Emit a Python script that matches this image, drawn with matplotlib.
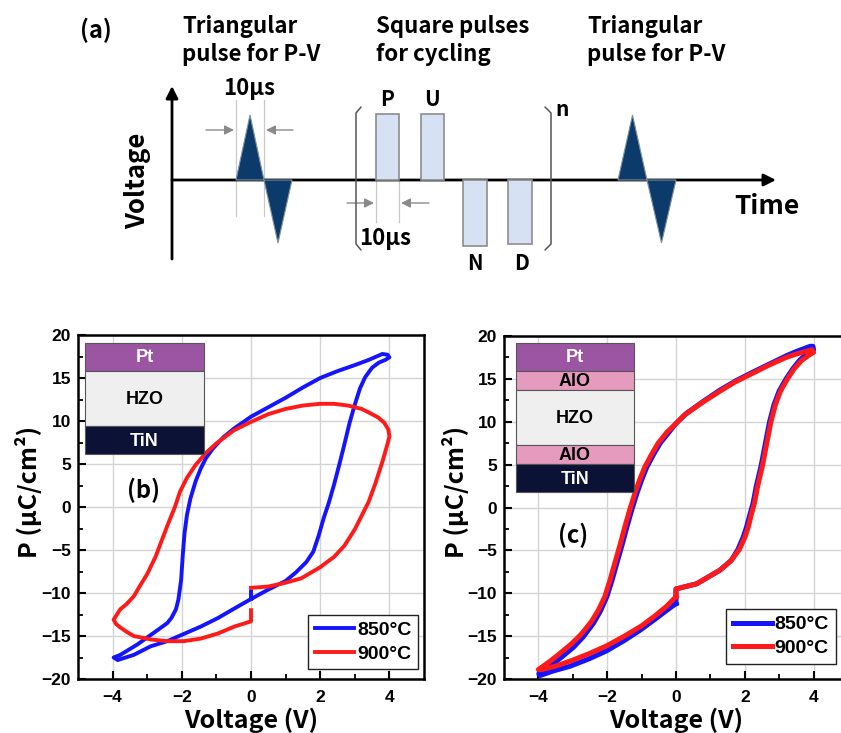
import matplotlib
matplotlib.use("Agg")
import matplotlib.pyplot as plt
from matplotlib.patches import Rectangle, Polygon

# ---------------- data ----------------
b850_V = [0, 0, 0.5, 1.0, 1.3, 1.6, 1.8, 1.95, 2.1, 2.25, 2.4, 2.55, 2.7, 2.85, 3.0, 3.15, 3.3, 3.5, 3.7, 3.88, 4.0,
          3.95, 3.8, 3.4, 3.0, 2.5, 2.0, 1.5, 1.0, 0.5, 0, -0.5, -0.8, -1.1, -1.3, -1.45, -1.6, -1.75, -1.85, -1.92,
          -1.97, -2.02, -2.1, -2.17, -2.3, -2.42, -2.8, -3.29, -3.78, -3.97, -3.85, -3.78, -3.39, -2.9, -2.42,
          -1.45, -0.95, -0.48, 0]
b850_P = [-9.8, -10.7, -9.6, -8.6, -7.6, -6.4, -5.2, -3.4, -1.3, 0.5, 2.6, 4.9, 7.3, 9.8, 11.9, 13.8, 15.1, 16.2, 16.8,
          17.1, 17.4, 17.7, 17.8, 17.1, 16.5, 15.8, 15.0, 13.9, 12.7, 11.6, 10.5, 9.1, 8.1, 6.8, 5.7, 4.5, 3.0, 1.0,
          -0.9, -3.0, -5.5, -8.5, -10.8, -11.9, -12.9, -13.5, -14.6, -16.0, -17.2, -17.5, -17.8, -17.7, -17.2,
          -16.2, -15.6, -13.9, -12.9, -11.8, -10.7]

b900_V = [0, 0.5, 1.0, 1.45, 2.0, 2.4, 2.7, 3.0, 3.2, 3.4, 3.6, 3.8, 3.95, 4.0, 3.97, 3.85, 3.68, 3.4, 3.2, 2.8, 2.4,
          2.0, 1.5, 1.0, 0.5, 0, -0.5, -1.0, -1.3, -1.6, -1.85, -2.05, -2.2, -2.42, -2.6, -2.76, -3.0, -3.2, -3.39,
          -3.6, -3.78, -3.97, -3.9, -3.78, -3.6, -3.39, -2.9, -2.42, -1.94, -1.45, -0.95, -0.48, 0, 0]
b900_P = [-9.4, -9.25, -8.8, -8.3, -7.0, -5.8, -4.5, -2.6, -1.0, 0.6, 2.8, 5.3, 7.4, 8.2, 9.0, 9.8, 10.4, 11.0, 11.4,
          11.8, 12.0, 12.0, 11.8, 11.4, 10.8, 9.9, 8.9, 7.4, 6.3, 4.9, 3.4, 1.8, 0.0, -2.2, -4.1, -5.8, -7.8, -9.1,
          -10.4, -11.3, -11.9, -13.1, -13.6, -14.0, -14.5, -15.0, -15.4, -15.6, -15.6, -15.3, -14.7, -13.9, -13.3,
          -12.0]

c850_V = [0, 0, 0.6, 1.28, 1.6, 1.8, 1.95, 2.05, 2.15, 2.24, 2.33, 2.48, 2.6, 2.72, 2.85, 3.0, 3.2, 3.4, 3.6, 3.8,
          4.0, 3.98, 3.9, 3.5, 3.21, 2.7, 2.24, 1.75, 1.28, 0.8, 0.31, 0, -0.2, -0.46, -0.65, -0.85, -1.0, -1.14,
          -1.28, -1.43, -1.57, -1.72, -1.86, -2.01, -2.2, -2.4, -2.7, -2.98, -3.28, -3.56, -3.8, -3.99, -3.95,
          -3.6, -3.07, -2.5, -2.01, -1.5, -1.04, -0.6, -0.27, 0]
c850_P = [-11.2, -9.5, -8.9, -7.3, -6.2, -4.9, -3.5, -2.3, -0.8, 0.5, 2.4, 5.0, 7.5, 10.0, 12.0, 13.6, 15.0, 16.2,
          17.2, 17.9, 18.4, 18.8, 18.8, 18.2, 17.7, 16.7, 15.8, 14.8, 13.7, 12.4, 11.0, 9.8, 8.8, 7.5, 6.2, 4.7, 3.2,
          1.6, -0.2, -2.3, -4.4, -6.5, -8.5, -10.4, -12.1, -13.5, -15.1, -16.3, -17.3, -18.2, -18.9, -19.4, -19.6,
          -19.1, -18.5, -17.6, -16.7, -15.5, -14.3, -13.0, -12.0, -11.2]

c900_V = [0, 0, 0.6, 1.28, 1.6, 1.84, 2.0, 2.1, 2.19, 2.28, 2.37, 2.52, 2.64, 2.76, 2.89, 3.04, 3.24, 3.44, 3.64,
          3.84, 4.0, 3.95, 3.5, 3.2, 2.7, 2.2, 1.7, 1.25, 0.75, 0.25, -0.05, -0.26, -0.52, -0.71, -0.91, -1.06,
          -1.2, -1.34, -1.49, -1.63, -1.78, -1.92, -2.07, -2.26, -2.46, -2.76, -3.04, -3.34, -3.62, -3.86, -4.0,
          -3.9, -3.5, -3.0, -2.5, -2.0, -1.5, -1.0, -0.6, -0.27, 0]
c900_P = [-10.4, -9.5, -8.9, -7.3, -6.2, -4.9, -3.5, -2.3, -0.8, 0.5, 2.4, 5.0, 7.5, 10.0, 12.0, 13.6, 15.0, 16.2,
          17.1, 17.7, 18.1, 18.4, 17.9, 17.5, 16.6, 15.6, 14.6, 13.5, 12.2, 10.8, 9.6, 8.8, 7.5, 6.2, 4.7, 3.2, 1.6,
          -0.2, -2.3, -4.4, -6.5, -8.5, -10.4, -12.0, -13.3, -14.8, -15.9, -16.9, -17.8, -18.5, -18.9, -18.9,
          -18.5, -17.8, -17.0, -16.1, -15.0, -13.8, -12.6, -11.5, -10.4]

series_labels = ["850°C", "900°C"]
series_colors = ["#1414ff", "#ff1a1a"]
x_ticks = [-4, -2, 0, 2, 4]
y_ticks = [-20, -15, -10, -5, 0, 5, 10, 15, 20]

stack_b = [("Pt", "#9b55a3", "white"), ("HZO", "#efefef", "black"), ("TiN", "#0b1236", "white")]
stack_c = [("Pt", "#9b55a3", "white"), ("AlO", "#e59bbd", "black"), ("HZO", "#efefef", "black"),
           ("AlO", "#e59bbd", "black"), ("TiN", "#0b1236", "white")]

LBL = ["Noto Sans CJK KR", "DejaVu Sans"]
NUM = "Liberation Sans"

W, H = 841, 733
fig = plt.figure(figsize=(W / 100, H / 100), dpi=100)


def add_px_axes(left, top, right, bottom):
    return fig.add_axes([left / W, 1 - bottom / H, (right - left) / W, (bottom - top) / H])


def style_axes(ax, top, bottom, left, ylab_x):
    ax.set_xlim(-5, 5)
    ax.set_ylim(-20, 20)
    ax.set_xticks(x_ticks)
    ax.set_xticks([-3, -1, 1, 3], minor=True)
    ax.set_yticks(y_ticks)
    ax.set_yticks([-17.5, -12.5, -7.5, -2.5, 2.5, 7.5, 12.5, 17.5], minor=True)
    ax.grid(True, which="major", color="#d4d4d4", lw=1.0)
    ax.set_axisbelow(True)
    ax.tick_params(which="major", direction="in", length=6, width=1.5, labelsize=12.5)
    ax.tick_params(axis="x", which="major", pad=8)
    ax.tick_params(axis="y", which="major", pad=5)
    ax.tick_params(which="minor", direction="in", length=3.5, width=1.3)
    for lab in ax.get_xticklabels() + ax.get_yticklabels():
        lab.set_fontfamily(NUM)
        lab.set_fontweight("bold")
    for s in ax.spines.values():
        s.set_linewidth(1.8)
    hpx = bottom - top
    ax.set_xlabel("Voltage (V)", fontsize=18, fontweight="bold", family=LBL, va="center")
    ax.xaxis.set_label_coords(0.5, -(720 - bottom) / hpx)
    ax.set_ylabel("P (μC/cm²)", fontsize=18, fontweight="bold", family=LBL, va="center")
    wpx = 346
    ax.yaxis.set_label_coords(-(left - ylab_x) / wpx, (bottom - 492) / hpx)


axb = add_px_axes(78, 335, 424, 679)
style_axes(axb, 335, 679, 78, 29)
axb.plot(b850_V, b850_P, color=series_colors[0], lw=2.8, label=series_labels[0], solid_joinstyle="round")
axb.plot(b900_V, b900_P, color=series_colors[1], lw=2.8, label=series_labels[1], solid_joinstyle="round")

axc = add_px_axes(504, 336, 848, 679)
style_axes(axc, 336, 679, 504, 455)
axc.plot(c850_V, c850_P, color=series_colors[0], lw=3.6, label=series_labels[0], solid_joinstyle="round")
axc.plot(c900_V, c900_P, color=series_colors[1], lw=3.6, label=series_labels[1], solid_joinstyle="round")

for ax, anchor in ((axb, (0.983, 0.028)), (axc, (0.965, 0.045))):
    leg = ax.legend(loc="lower right", bbox_to_anchor=anchor, fancybox=False, edgecolor="#222222",
                    framealpha=1, handlelength=2.0, handletextpad=0.15, borderpad=0.35, labelspacing=0.3,
                    borderaxespad=0, prop={"family": NUM, "weight": "bold", "size": 14})
    leg.get_frame().set_linewidth(1.0)

# ---------------- overlay (pixel coordinates) ----------------
ov = fig.add_axes([0, 0, 1, 1], zorder=10)
ov.set_xlim(0, W)
ov.set_ylim(H, 0)
ov.axis("off")
ov.patch.set_alpha(0)


def draw_stack(x0, x1, ys, layers):
    for (name, fc, tc), ya, yb in zip(layers, ys[:-1], ys[1:]):
        ov.add_patch(Rectangle((x0, ya), x1 - x0, yb - ya, facecolor=fc, edgecolor="#555555", lw=0.8))
        ov.text((x0 + x1) / 2, (ya + yb) / 2 + 1, name, color=tc, ha="center", va="center",
                fontsize=13, fontweight="bold", family=NUM)


draw_stack(85, 204, [343, 371, 426, 454], stack_b)
draw_stack(516, 634, [343, 371, 390, 445, 464, 492], stack_c)
ov.text(144, 490, "(b)", ha="center", va="center", fontsize=17, fontweight="bold", family=LBL)
ov.text(573, 535, "(c)", ha="center", va="center", fontsize=17, fontweight="bold", family=LBL)

# ---------------- diagram (a) ----------------
tfont = dict(fontsize=16, fontweight="bold", family=LBL, va="center", ha="left")
ov.text(80, 30, "(a)", fontsize=17, fontweight="bold", family=LBL, va="center", ha="left")
ov.text(182, 27, "Triangular", **tfont)
ov.text(182, 55, "pulse for P-V", **tfont)
ov.text(376, 27, "Square pulses", **tfont)
ov.text(376, 55, "for cycling", **tfont)
ov.text(587, 27, "Triangular", **tfont)
ov.text(587, 55, "pulse for P-V", **tfont)

ov.text(138, 181, "Voltage", rotation=90, ha="center", va="center", fontsize=18.5, fontweight="bold", family=LBL)
ov.text(767, 207, "Time", ha="center", va="center", fontsize=19, fontweight="bold", family=LBL)

ov.annotate("", xy=(172, 86), xytext=(172, 259),
            arrowprops=dict(arrowstyle="-|>", lw=2, color="black", mutation_scale=18, shrinkA=0, shrinkB=0))
ov.annotate("", xy=(776, 180), xytext=(172, 180),
            arrowprops=dict(arrowstyle="-|>", lw=2, color="black", mutation_scale=18, shrinkA=0, shrinkB=0))

tri_color = "#0c3a6b"
for xs in (236, 618):
    w = 14 if xs == 236 else 14.5
    ov.add_patch(Polygon([(xs, 180), (xs + w, 115), (xs + 2 * w, 180)], closed=True,
                         facecolor=tri_color, edgecolor="#8090a0", lw=0.8, zorder=3))
    ov.add_patch(Polygon([(xs + 2 * w, 180), (xs + 3 * w, 243), (xs + 4 * w, 180)], closed=True,
                         facecolor=tri_color, edgecolor="#8090a0", lw=0.8, zorder=3))

gray = "#8a8a8a"
for x in (236, 264):
    ov.plot([x, x], [100, 216], color="#c8c8c8", lw=0.9, zorder=1)
ov.annotate("", xy=(234, 130), xytext=(206, 130),
            arrowprops=dict(arrowstyle="-|>", lw=1, color=gray, mutation_scale=14, shrinkA=0, shrinkB=0))
ov.annotate("", xy=(266, 130), xytext=(293, 130),
            arrowprops=dict(arrowstyle="-|>", lw=1, color=gray, mutation_scale=14, shrinkA=0, shrinkB=0))
ov.text(249, 89, "10μs", ha="center", va="center", fontsize=16, fontweight="bold", family=LBL)

sq_fc = "#d6e2f3"
for x0, x1, ytop in ((376, 399, 114), (421, 444, 114)):
    ov.add_patch(Rectangle((x0, ytop), x1 - x0, 180 - ytop, facecolor=sq_fc, edgecolor="#8c8c8c", lw=1.2, zorder=3))
for x0, x1, ybot in ((463, 487, 246), (508, 532, 244)):
    ov.add_patch(Rectangle((x0, 180), x1 - x0, ybot - 180, facecolor=sq_fc, edgecolor="#8c8c8c", lw=1.2, zorder=3))
for txt, x, y in (("P", 387, 99), ("U", 432, 99), ("N", 475, 264), ("D", 522, 264), ("n", 562, 110)):
    ov.text(x, y, txt, ha="center", va="center", fontsize=15, fontweight="bold", family=LBL)

ov.plot([361, 356, 356, 361], [107, 113, 244, 250], color="#555555", lw=1.1, zorder=4, solid_capstyle="round")
ov.plot([545, 551, 551, 545], [107, 113, 244, 250], color="#555555", lw=1.1, zorder=4, solid_capstyle="round")

for x in (376, 399):
    ov.plot([x, x], [180, 222], color="#c8c8c8", lw=0.9, zorder=1)
ov.annotate("", xy=(374, 203), xytext=(347, 203),
            arrowprops=dict(arrowstyle="-|>", lw=1, color=gray, mutation_scale=14, shrinkA=0, shrinkB=0))
ov.annotate("", xy=(401, 203), xytext=(429, 203),
            arrowprops=dict(arrowstyle="-|>", lw=1, color=gray, mutation_scale=14, shrinkA=0, shrinkB=0))
ov.text(359, 238, "10μs", ha="left", va="center", fontsize=16, fontweight="bold", family=LBL)

fig.savefig("out.png", dpi=100)
